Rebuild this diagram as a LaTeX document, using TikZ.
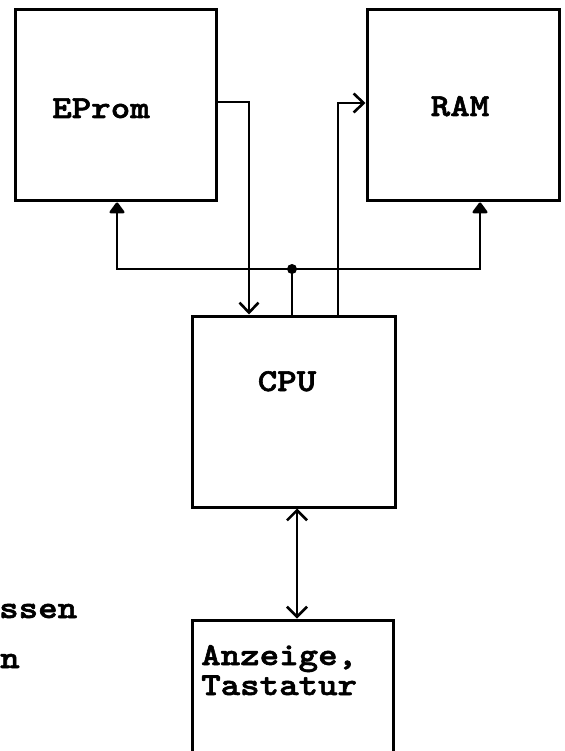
\documentclass[tikz,border=0pt]{standalone}
\usepackage{fontspec}
\newfontfamily\tw{lmmonolt10-bold.otf}[FakeStretch=1.16,FakeBold=1.8]
\usetikzlibrary{arrows.meta}
\tikzset{
  box/.style={draw, line width=3pt, rectangle, inner sep=0pt},
  conn/.style={line width=2.8pt},
  barb/.style={conn, -{Straight Barb[length=10pt,width=19pt,line width=2.6pt]}},
  dbarb/.style={conn, {Straight Barb[length=10pt,width=20pt,line width=2.6pt]}-{Straight Barb[length=10pt,width=20pt,line width=2.6pt]}},
  tri/.style={conn, -{Triangle[round,length=12pt,width=17pt]}},
  lbl/.style={inner sep=0pt, font={\tw\fontsize{32}{30}\selectfont}}
}
\begin{document}
\begin{tikzpicture}[x=1pt,y=-1pt]
\useasboundingbox[fill=white] (0,0) rectangle (564,751);
% boxes
\node[box, minimum width=201pt, minimum height=191pt] (eprom) at (115.5,105.5) {};
\node[box, minimum width=192pt, minimum height=191pt] (ram) at (463,105.5) {};
\node[box, minimum width=203pt, minimum height=191pt] (cpu) at (293.5,411.5) {};
\node[box, minimum width=201pt, minimum height=200pt] (anz) at (292.5,720) {};
% labels
\node[lbl, anchor=base] (teprom) at (101,118) {EProm};
\node[lbl, anchor=base] (tram) at (460,116) {RAM};
\node[lbl, anchor=base] (tcpu) at (287,391) {CPU};
\node[lbl, anchor=base west, align=left] (tanz) at (201,695) {Anzeige,\\Tastatur};
\node[lbl, anchor=base west] (tl1) at (-1,618) {ssen};
\node[lbl, anchor=base west] (tl2) at (0,668) {n};
% connectors
\draw[barb] ([yshift=3.5pt]eprom.east) -| ([xshift=-44.5pt]cpu.north);
\draw[barb] ([xshift=44.5pt]cpu.north) |- ([yshift=2.5pt]ram.west);
\coordinate (bus) at (292,269);
\draw[tri] (bus) -| ([xshift=1.5pt]eprom.south);
\draw[tri] (bus) -| ([xshift=17pt]ram.south);
\draw[conn] (bus) -- (bus |- cpu.north);
\fill (bus) circle (5pt);
\draw[dbarb] ([xshift=3.5pt]cpu.south) -- ([xshift=3.5pt]cpu.south |- anz.north);
\end{tikzpicture}
\end{document}
